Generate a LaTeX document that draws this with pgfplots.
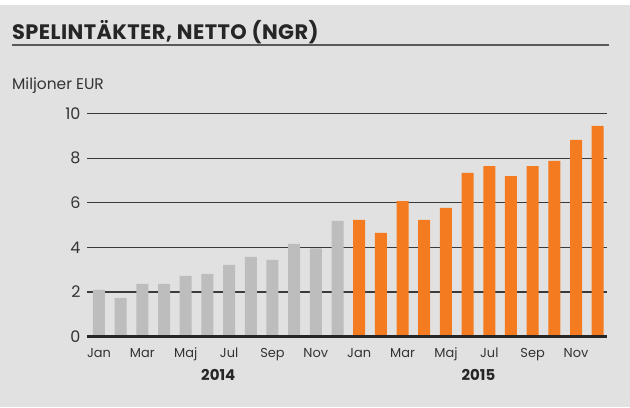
\documentclass[border=0pt]{standalone}
\usepackage{pgfplots}
\pgfplotsset{compat=1.18}
\usepackage{fontspec}
\setmainfont{Poppins}
\definecolor{bg}{HTML}{E1E1E1}
\definecolor{barg}{HTML}{BDBDBD}
\definecolor{baro}{HTML}{F47B20}
\definecolor{gridc}{HTML}{3A3A3A}
\begin{document}
\begin{tikzpicture}[x=1bp,y=1bp]
\useasboundingbox (0,0) rectangle (630,407);
\fill[bg] (0,0) rectangle (630,402);
\fill[white] (0,402) rectangle (630,407);
\node[anchor=base west,font=\fontsize{21}{24}\selectfont\bfseries\addfontfeature{LetterSpace=2},text=black!85,inner sep=0pt] at (12,368) {SPELINTÄKTER, NETTO (NGR)};
\draw[line width=1.6bp,color=black!65] (12,362) -- (609,362);
\node[anchor=base west,font=\fontsize{15.5}{18}\selectfont,text=black!80,inner sep=0pt] at (12,318) {Miljoner EUR};
\begin{axis}[
  at={(87bp,70.5bp)}, anchor=south west,
  scale only axis, width=520bp, height=222.8bp,
  xmin=-0.553, xmax=23.43, ymin=0, ymax=10,
  axis line style={draw=none},
  tick style={draw=none},
  ytick={0,2,4,6,8,10},
  xtick={0,...,23},
  xticklabels={Jan,,Mar,,Maj,,Jul,,Sep,,Nov,,Jan,,Mar,,Maj,,Jul,,Sep,,Nov,},
  ymajorgrids,
  grid style={color=gridc,line width=1.3bp},
  /pgf/number format/assume math mode=true,
  yticklabel style={font=\fontsize{16}{18}\selectfont,text=black!80,anchor=east,xshift=-3bp},
  xticklabel style={font=\fontsize{13}{15}\selectfont,text=black!80,anchor=base,yshift=-16.8bp},
  ybar, bar width=12bp,
  clip=false,
]
\addplot[fill=barg,draw=none,bar shift=0pt] coordinates {
(0,2.09) (1,1.73) (2,2.36) (3,2.36) (4,2.72) (5,2.81) (6,3.21) (7,3.57) (8,3.44) (9,4.16) (10,3.95) (11,5.19)};
\addplot[fill=baro,draw=none,bar shift=0pt] coordinates {
(12,5.23) (13,4.65) (14,6.08) (15,5.23) (16,5.77) (17,7.34) (18,7.65) (19,7.20) (20,7.65) (21,7.88) (22,8.82) (23,9.45)};
\draw[line width=2.2bp,color=black!85] (rel axis cs:0,0) -- (rel axis cs:1,0);
\node[font=\fontsize{15}{18}\selectfont\bfseries,text=black!85,anchor=base] at (axis cs:5.5,-1.97) {2014};
\node[font=\fontsize{15}{18}\selectfont\bfseries,text=black!85,anchor=base] at (axis cs:17.5,-1.97) {2015};
\end{axis}
\end{tikzpicture}
\end{document}
